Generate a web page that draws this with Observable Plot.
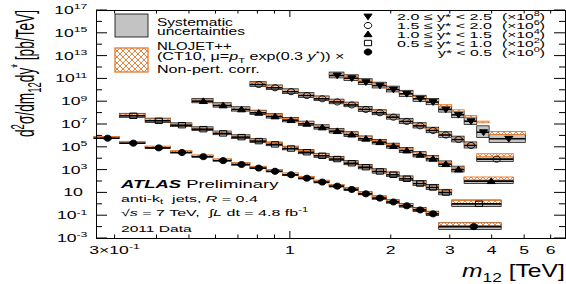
<!DOCTYPE html>
<html><head><meta charset="utf-8">
<script src="https://cdn.jsdelivr.net/npm/d3@7"></script>
<script src="https://cdn.jsdelivr.net/npm/@observablehq/plot@0.6"></script>
<style>body{margin:0;background:#fff} svg{display:block}</style>
</head><body><div id="chart"></div>
<script>
// ---------------- data ----------------
const binEdges = [0.26,0.31,0.37,0.44,0.51,0.59,0.67,0.76,0.85,0.95,1.06,1.18,1.31,1.45,1.60,1.76,1.94,2.12,2.33,2.55,2.78,3.04,3.31,3.61,3.93,4.27,4.64,5.04];
const seriesNames = ["y* < 0.5", "0.5 ≤ y* < 1.0", "1.0 ≤ y* < 1.5", "1.5 ≤ y* < 2.0", "2.0 ≤ y* < 2.5"];
const seriesExp = ["0", "2", "4", "6", "8"];
const firstBin = [0, 1, 4, 7, 12];
const mergedLo = [2.78, 3.04, 3.31, 3.61, 3.93];
const mergedHi = [4.27, 4.27, 4.64, 4.64, 5.04];

// cross sections [pb/TeV] incl. scale factor; last entry = merged wide bin
const xsec0 = [6.3e5,2.3e5,8.9e4,3.5e4,1.5e4,6.8e3,3.1e3,1.5e3,7.9e2,3.9e2,1.95e2,89,39,20,8.3,3.5,1.6,0.74,0.32,0.145,0.011];
const xsec1 = [5.8e7,2.1e7,8.7e6,3.9e6,1.66e6,7.8e5,3.5e5,1.8e5,7.8e4,3.7e4,1.8e4,9.3e3,4.0e3,1.8e3,760,390,174,66,30,10.7,1.1];
const xsec2 = [1.12e9,4.7e8,2.1e8,1.05e8,5.1e7,2.4e7,1.15e7,5.5e6,2.6e6,1.3e6,5.6e5,2.8e5,1.26e5,5.2e4,2.2e4,9.8e3,3.3e3,1.12e3,107];
const xsec3 = [3.2e10,1.66e10,7.6e9,3.5e9,1.8e9,9.5e8,5.2e8,2.1e8,1.07e8,4.4e7,1.86e7,7.6e6,3.0e6,1.2e6,4.8e5,1.45e5,9.1e3];
const xsec4 = [2.0e11,1.15e11,5.2e10,2.6e10,1.17e10,4.9e9,1.8e9,9.3e8,2.1e8,7.1e7,1.95e7,2.1e6,5.6e5];

// systematic uncertainty (multiplicative half-size of gray box)
const sys0 = [1.2,1.2,1.2,1.2,1.2,1.2,1.25,1.25,1.25,1.25,1.3,1.3,1.3,1.35,1.35,1.4,1.4,1.45,1.5,1.55,1.95];
const sys1 = [1.5,1.55,1.45,1.45,1.45,1.45,1.45,1.45,1.45,1.5,1.5,1.5,1.5,1.55,1.55,1.6,1.6,1.65,1.7,1.75,1.95];
const sys2 = [1.55,1.55,1.55,1.55,1.55,1.55,1.55,1.55,1.6,1.6,1.6,1.6,1.65,1.65,1.7,1.7,1.75,1.8,1.8];
const sys3 = [1.6,1.6,1.6,1.6,1.6,1.6,1.6,1.65,1.65,1.65,1.7,1.7,1.75,1.75,1.8,1.85,1.8];
const sys4 = [1.8,1.8,1.8,1.8,1.8,1.85,1.85,1.9,1.9,2.0,2.1,3.3,2.3];

// NLOJET++ / data ratio
const nlo0 = [1.1,1.1,1.1,1.1,1.1,1.1,1.1,1.1,1.1,1.1,1.1,1.1,1.1,1.1,1.1,1.1,1.1,1.1,1.1,1.1,1.44];
const nlo1 = [1.1,1.1,1.1,1.1,1.1,1.1,1.1,1.1,1.1,1.1,1.1,1.1,1.1,1.1,1.1,1.1,1.1,1.1,1.1,1.25,1.3];
const nlo2 = [1.1,1.1,1.1,1.1,1.1,1.1,1.1,1.1,1.1,1.1,1.1,1.1,1.1,1.1,1.1,1.1,1.1,1.2,1.56];
const nlo3 = [1.1,1.1,1.1,1.1,1.1,1.1,1.1,1.1,1.1,1.1,1.1,1.1,1.1,1.1,1.1,1.2,2.0];
const nlo4 = [1.1,1.1,1.1,1.1,1.1,1.15,1.2,1.3,2.0,2.1,2.4,7.1,2.9];

const xTickMajor = [1];
const xTickMinor = [0.3,0.4,0.5,0.6,0.7,0.8,0.9,2,3,4,5,6];
const xTickLabels = [[0.3, [["3×10","n"],["-1","sup"]]], [1,[["1","n"]]], [2,[["2","n"]]], [3,[["3","n"]]], [4,[["4","n"]]], [5,[["5","n"]]], [6,[["6","n"]]]];
const yDecades = [-3,-2,-1,0,1,2,3,4,5,6,7,8,9,10,11,12,13,14,15,16,17];
const yLabelExp = [17,15,13,11,9,7,5,3,1,-1,-3];

// ---------------- build rows ----------------
const xsecs = [xsec0,xsec1,xsec2,xsec3,xsec4];
const syss = [sys0,sys1,sys2,sys3,sys4];
const nlos = [nlo0,nlo1,nlo2,nlo3,nlo4];
const rows = [];
xsecs.forEach((vals, k) => {
  vals.forEach((v, i) => {
    const merged = i === vals.length - 1;
    const lo = merged ? mergedLo[k] : binEdges[firstBin[k] + i];
    const hi = merged ? mergedHi[k] : binEdges[firstBin[k] + i + 1];
    rows.push({k, lo, hi, xc: (lo + hi) / 2, v, sys: syss[k][i], nlo: nlos[k][i], nw: merged ? 1.35 : 1.18});
  });
});

const FONT = "'Liberation Sans', Arial, Helvetica, sans-serif";
const orange = "#e5782b";
const gray = "#c3c3c3";

function poly(pts) { return {draw(ctx, size) { const r = Math.sqrt(size / Math.PI); pts.forEach(([a,b],i)=> i ? ctx.lineTo(a*r,b*r) : ctx.moveTo(a*r,b*r)); ctx.closePath(); }}; }
const ellPts = d3.range(24).map(i => [1.25*Math.cos(2*Math.PI*i/24), Math.sin(2*Math.PI*i/24)]);
const symCircle = poly(ellPts);
const symSquare = poly([[-1.2,-0.9],[1.2,-0.9],[1.2,0.9],[-1.2,0.9]]);
const symUp = poly([[0,-1.1],[1.35,0.8],[-1.35,0.8]]);
const symDown = poly([[0,1.1],[1.35,-0.8],[-1.35,-0.8]]);
const seriesSym = [symCircle, symSquare, symUp, symCircle, symDown];
const seriesFilled = [true, false, true, false, true];

const dots = xsecs.map((_, k) => Plot.dot(rows.filter(d => d.k === k), {
  x: "xc", y: "v", symbol: seriesSym[k], r: 3,
  fill: seriesFilled[k] ? "black" : "none", stroke: "black", strokeWidth: 1
}));

const chart = Plot.plot({
  width: 566, height: 284,
  marginLeft: 96, marginRight: 1, marginTop: 10, marginBottom: 46,
  style: {background: "white", fontFamily: FONT},
  x: {type: "log", domain: [0.264, 6.62], axis: null},
  y: {type: "log", domain: [1e-3, 1e17], axis: null},
  marks: [
    Plot.rect(rows, {x1: "lo", x2: "hi", y1: d => d.v / d.sys, y2: d => d.v * d.sys, fill: gray, stroke: "black", strokeWidth: 0.7}),
    Plot.rect(rows, {x1: "lo", x2: "hi", y1: d => d.v * d.nlo / d.nw, y2: d => d.v * d.nlo * d.nw, fill: "url(#nloHatch)", stroke: orange, strokeWidth: 0.9}),
    Plot.ruleY(rows, {y: "v", x1: "lo", x2: "hi", stroke: "black", strokeWidth: 1.6}),
    ...dots,
    Plot.frame({stroke: "black", strokeWidth: 1})
  ]
});
document.getElementById("chart").appendChild(chart);

const svg = d3.select(chart);
svg.insert("defs", ":first-child").html(
  `<pattern id="nloHatch" patternUnits="userSpaceOnUse" width="6" height="6">
     <rect width="6" height="6" fill="white"/>
     <path d="M0,0L6,6M6,0L0,6" stroke="${orange}" stroke-width="0.9"/>
   </pattern>`);

const X = chart.scale("x"), Y = chart.scale("y");
const sxl = X.apply ? (v => X.apply(v)) : d3.scaleLog(X.domain, X.range);
const syl = Y.apply ? (v => Y.apply(v)) : d3.scaleLog(Y.domain, Y.range);
const xL = sxl(X.domain[0]), xR = sxl(X.domain[1]);
const yB = syl(Y.domain[0]), yT = syl(Y.domain[1]);

const g = svg.append("g").attr("text-anchor", "start").attr("fill", "black");
function line(x1,y1,x2,y2){ g.append("line").attr("x1",x1).attr("y1",y1).attr("x2",x2).attr("y2",y2).attr("stroke","black").attr("stroke-width",1); }
xTickMajor.forEach(v => { const x = sxl(v); line(x,yB,x,yB-7); line(x,yT,x,yT+7); });
xTickMinor.forEach(v => { const x = sxl(v); line(x,yB,x,yB-3.5); line(x,yT,x,yT+3.5); });
yDecades.forEach(e => { const y = syl(Math.pow(10,e)); const len = (e % 2 !== 0) ? 11 : 6; line(xL,y,xL+len,y); line(xR,y,xR-len,y); });

function addText(x, y, parts, {size=10, width=null, k=null, anchor="start", color="black"} = {}) {
  const t = g.append("text").attr("font-family", FONT).attr("font-size", size).attr("fill", color)
    .attr("text-anchor", "start").attr("x",0).attr("y",0);
  let shift = 0;
  for (const [str, kind] of parts) {
    const sp = t.append("tspan").text(str);
    let target = 0;
    if (kind === "sup") target = -size*0.42;
    if (kind === "sub") target = size*0.25;
    if (kind === "sup" || kind === "sub") sp.attr("font-size", size*0.7);
    sp.attr("dy", target - shift); shift = target;
    if (kind === "i" || kind === "bi") sp.attr("font-style","italic");
    if (kind === "bi" || kind === "b") sp.attr("font-weight","bold");
  }
  const w = t.node().getBBox().width;
  const s = k || (width ? width / w : 1);
  let tx = x;
  if (anchor === "end") tx = x - w*s; else if (anchor === "middle") tx = x - w*s/2;
  t.attr("transform", `translate(${tx},${y}) scale(${s},1)`);
  return t;
}

yLabelExp.forEach(e => {
  const y = syl(Math.pow(10,e)) + 4;
  if (e === 1) addText(83, y, [["10","n"]], {size: 11, k: 1.62, anchor: "end"});
  else addText(87.5, y, [["10","n"],[String(e),"sup"]], {size: 11, k: 1.6, anchor: "end"});
});
xTickLabels.forEach(([v, parts]) => addText(sxl(v), 254, parts, {size: 11, k: 1.6, anchor: "middle"}));

addText(462, 277, [["m","i"],["12","sub"],[" [TeV]","n"]], {size: 19, width: 103});
{
  const t = g.append("text").attr("font-family", FONT).attr("font-size", 15).attr("text-anchor","start").attr("x",0).attr("y",0);
  const parts = [["d","n"],["2","sup"],["σ/dm","n"],["12","sub"],["dy","n"],["*","sup"],[" [pb/TeV]","n"]];
  let shift = 0;
  for (const [str, kind] of parts) {
    const sp = t.append("tspan").text(str);
    let target = kind === "sup" ? -6 : kind === "sub" ? 4 : 0;
    if (kind !== "n") sp.attr("font-size", 10.5);
    sp.attr("dy", target - shift); shift = target;
  }
  const w = t.node().getBBox().width;
  t.attr("transform", `translate(34,73.5) scale(1.75,1) rotate(-90) scale(${127/w},1) translate(${-w/2},0)`);
}

g.append("rect").attr("x",115).attr("y",14).attr("width",33).attr("height",23).attr("fill",gray).attr("stroke","black").attr("stroke-width",0.8);
g.append("rect").attr("x",115).attr("y",48).attr("width",33).attr("height",24).attr("fill","url(#nloHatch)").attr("stroke",orange).attr("stroke-width",1.3);
addText(157, 25.5, [["Systematic","n"]], {size: 10, width: 76});
addText(157, 35, [["uncertainties","n"]], {size: 10, width: 88});
addText(157, 49.5, [["NLOJET++","n"]], {size: 10, width: 75});
addText(157, 60, [["(CT10, μ=","n"],["p","i"],["T","sub"],[" exp(0.3 ","n"],["y","i"],["*","sup"],[")) ×","n"]], {size: 10, width: 188});
addText(157, 73, [["Non-pert. corr.","n"]], {size: 10, width: 103});

const legY = [20, 29, 38, 46.5, 55.5];
const symY = [16.5, 25.5, 34.3, 43, 52];
[4,3,2,1,0].forEach((k, j) => {
  const p = d3.symbol(seriesSym[k], 9*Math.PI)();
  g.append("path").attr("d", p).attr("transform", `translate(368,${symY[j]})`)
    .attr("fill", seriesFilled[k] ? "black" : "none").attr("stroke","black").attr("stroke-width",1);
  addText(492, legY[j], [[seriesNames[k],"n"]], {size: 9.5, width: k === 0 ? 54 : 95, anchor: "end"});
  addText(502, legY[j], [["(×10","n"],[seriesExp[k],"sup"],[")","n"]], {size: 9.5, width: 43});
});

addText(121, 188, [["ATLAS","bi"],[" Preliminary","n"]], {size: 11, width: 160});
addText(121, 201.5, [["anti-k","n"],["t","sub"],["  jets, ","n"],["R","i"],[" = 0.4","n"]], {size: 9.5, width: 137});
addText(121, 215.5, [["√","n"],["s","i"],[" = 7 TeV,  ∫","n"],["L","i"],[" dt = 4.8 fb","n"],["-1","sup"]], {size: 9.5, width: 188});
addText(121, 232, [["2011 Data","n"]], {size: 9.5, width: 72});
</script>
</body></html>
